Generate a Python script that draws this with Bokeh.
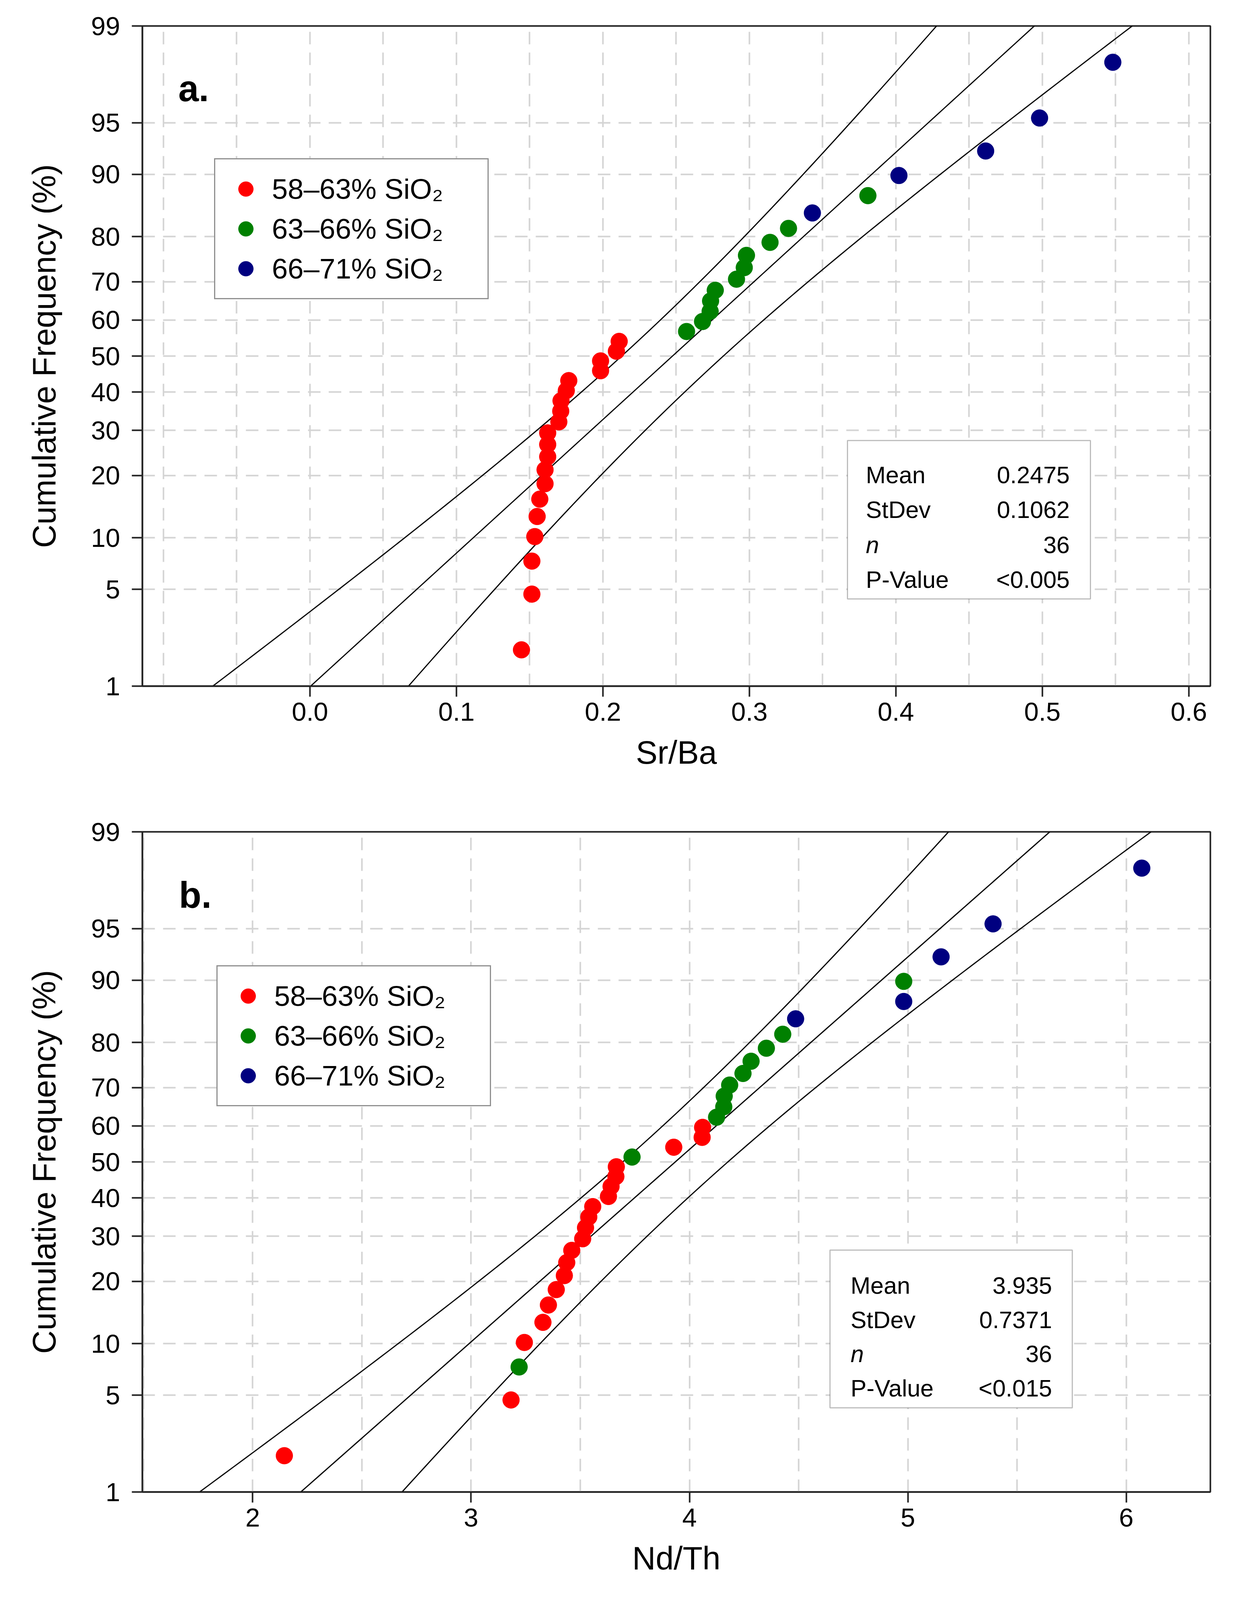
from statistics import NormalDist
import numpy as np
from bokeh.plotting import figure
from bokeh.models import (Range1d, FixedTicker, CustomJSTickFormatter, NumeralTickFormatter,
                          Legend, LegendItem, BoxAnnotation, Label)
from bokeh.layouts import column
from bokeh.embed import file_html
from bokeh.resources import INLINE

FONT = "Liberation Sans"

# ---------------- data ----------------
# plotting positions (cumulative frequency, %) of the 36 ranked samples
cum_freq = [1.92, 4.67, 7.42, 10.16, 12.91, 15.66, 18.41, 21.15, 23.90, 26.65,
            29.40, 32.14, 34.89, 37.64, 40.38, 43.13, 45.88, 48.63, 51.37, 54.12,
            56.87, 59.62, 62.36, 65.11, 67.86, 70.60, 73.35, 76.10, 78.85, 81.59,
            84.34, 87.09, 89.84, 92.58, 95.33, 98.08]

group_names = ["58\u201363% SiO\u2082", "63\u201366% SiO\u2082", "66\u201371% SiO\u2082"]
group_colors = ["#ff0000", "#008000", "#000080"]

# panel a: Sr/Ba (sorted) and SiO2 group of each sample
srba_values = [0.1444, 0.1515, 0.1515, 0.1535, 0.1551, 0.1569, 0.1605, 0.1605, 0.1623, 0.1623,
               0.1623, 0.1699, 0.1712, 0.1714, 0.1750, 0.1767, 0.1984, 0.1984, 0.2092, 0.2111,
               0.2571, 0.2680, 0.2732, 0.2735, 0.2767, 0.2912, 0.2965, 0.2980, 0.3141, 0.3267,
               0.3430, 0.3809, 0.4021, 0.4613, 0.4981, 0.5481]
srba_groups = [0] * 20 + [1] * 10 + [2, 1, 2, 2, 2, 2]

# panel b: Nd/Th (sorted) and SiO2 group of each sample
ndth_values = [2.145, 3.183, 3.220, 3.244, 3.329, 3.354, 3.390, 3.427, 3.438, 3.461,
               3.511, 3.524, 3.539, 3.557, 3.629, 3.641, 3.663, 3.665, 3.737, 3.928,
               4.058, 4.060, 4.124, 4.157, 4.159, 4.184, 4.245, 4.282, 4.352, 4.427,
               4.486, 4.981, 4.981, 5.152, 5.390, 6.071]
ndth_groups = [0, 0, 1] + [0] * 15 + [1] + [0, 0, 0] + [1] * 8 + [2, 2, 1, 2, 2, 2]

stats_labels = ["Mean", "StDev", "n", "P-Value"]
srba_stats = [0.2475, 0.1062, 36, "<0.005"]
ndth_stats = [3.935, 0.7371, 36, "<0.015"]

y_tick_pct = [1, 5, 10, 20, 30, 40, 50, 60, 70, 80, 90, 95, 99]
srba_ticks = [0.0, 0.1, 0.2, 0.3, 0.4, 0.5, 0.6]
srba_grid = [-0.1, -0.05, 0.0, 0.05, 0.1, 0.15, 0.2, 0.25, 0.3, 0.35, 0.4, 0.45, 0.5, 0.55, 0.6]
ndth_ticks = [2, 3, 4, 5, 6]
ndth_grid = [1.5, 2.0, 2.5, 3.0, 3.5, 4.0, 4.5, 5.0, 5.5, 6.0]

# ---------------- helpers ----------------
ND = NormalDist()
ZMAX = ND.inv_cdf(0.99)
VS = 0.95                      # vertical squeeze so the page fits the visible window
FRAME_H = 1690
BORDER_TOP = 66
PAGE_W = 3143


def z_of(pct):
    return ND.inv_cdf(pct / 100.0)


def make_panel(values, groups, stats, x_range, border_left, frame_w, border_bottom,
               xticks, xgrid, xfmt, xlabel, letter, legend_xy, box_px, text_px, row_step):
    fig_h = BORDER_TOP + FRAME_H + border_bottom
    border_right = PAGE_W - border_left - frame_w
    p = figure(width=PAGE_W, height=fig_h, output_backend="svg", toolbar_location=None,
               x_range=Range1d(*x_range), y_range=Range1d(-ZMAX, ZMAX),
               min_border_left=border_left, min_border_right=border_right,
               min_border_top=BORDER_TOP, min_border_bottom=border_bottom)
    p.background_fill_color = "white"
    p.border_fill_color = "white"
    p.outline_line_color = "#222222"
    p.outline_line_width = 4

    def fx(px):
        return x_range[0] + px / frame_w * (x_range[1] - x_range[0])

    def fz(px_from_top):
        return ZMAX - px_from_top * VS / FRAME_H * (2 * ZMAX)

    # axes
    zt = [z_of(v) for v in y_tick_pct]
    p.yaxis.ticker = FixedTicker(ticks=zt)
    p.yaxis.formatter = CustomJSTickFormatter(
        args=dict(zs=zt, labels=[str(v) for v in y_tick_pct]),
        code="const i = zs.findIndex(v => Math.abs(v - tick) < 1e-6); return i >= 0 ? labels[i] : '';")
    p.xaxis.ticker = FixedTicker(ticks=xticks)
    p.xaxis.formatter = NumeralTickFormatter(format=xfmt)
    p.xaxis.axis_label = xlabel
    p.yaxis.axis_label = "Cumulative Frequency (%)"
    for ax in (p.xaxis, p.yaxis):
        ax.axis_line_color = "#222222"
        ax.axis_line_width = 4
        ax.major_tick_line_color = "#222222"
        ax.major_tick_line_width = 4
        ax.major_tick_out = 27
        ax.major_tick_in = 0
        ax.minor_tick_out = 0
        ax.minor_tick_in = 0
        ax.major_label_text_font = FONT
        ax.major_label_text_font_size = "67px"
        ax.major_label_text_color = "black"
        ax.axis_label_text_font = FONT
        ax.axis_label_text_font_size = "83px"
        ax.axis_label_text_font_style = "normal"
        ax.axis_label_text_color = "black"
    p.xaxis.major_label_standoff = 15
    p.xaxis.axis_label_standoff = 32
    p.yaxis.major_label_standoff = 30
    p.yaxis.axis_label_standoff = 70

    # grid
    p.xgrid.ticker = FixedTicker(ticks=xgrid)
    for g in (p.xgrid, p.ygrid):
        g.grid_line_color = "#d4d4d4"
        g.grid_line_width = 4
        g.grid_line_dash = "32 21"

    # fitted line and 95% confidence band
    mean, sd, n = stats[0], stats[1], stats[2]
    zz = np.linspace(-ZMAX, ZMAX, 81)
    mid = mean + zz * sd
    half = 1.96 * sd * np.sqrt((1 + zz ** 2 / 2) / n)
    for xs in (mid - half, mid, mid + half):
        p.line(xs, zz, line_color="black", line_width=3)

    # points
    items = []
    for gi, (name, col) in enumerate(zip(group_names, group_colors)):
        xs = [v for v, g in zip(values, groups) if g == gi]
        ys = [z_of(c) for c, g in zip(cum_freq, groups) if g == gi]
        r = p.scatter(xs, ys, size=43, marker="circle", fill_color=col, line_color=col)
        items.append(LegendItem(label=name, renderers=[r]))

    legend = Legend(items=items, location=legend_xy, orientation="vertical",
                    border_line_color="#222222", border_line_width=3,
                    background_fill_color="white", background_fill_alpha=1.0,
                    label_text_font=FONT, label_text_font_size="73px",
                    label_text_color="black",
                    glyph_width=100, glyph_height=95, label_height=95,
                    label_width=524, label_standoff=17, padding=28, spacing=7, margin=0)
    p.add_layout(legend)

    # statistics box
    bl, br, bt, bb = box_px
    p.add_layout(BoxAnnotation(left=fx(bl), right=fx(br), top=fz(bt), bottom=fz(bb),
                               fill_color="white", fill_alpha=1.0,
                               line_color="#222222", line_width=3))
    tl, tr, tb = text_px
    values_txt = [f"{stats[0]}", f"{stats[1]}", f"{stats[2]}", stats[3]]
    for i, (lab, val) in enumerate(zip(stats_labels, values_txt)):
        yy = fz(tb + i * row_step)
        p.add_layout(Label(x=fx(tl), y=yy, text=lab, text_font=FONT, text_font_size="61px",
                           text_font_style="italic" if lab == "n" else "normal",
                           text_color="black", text_align="left", text_baseline="alphabetic"))
        p.add_layout(Label(x=fx(tr), y=yy, text=val, text_font=FONT, text_font_size="61px",
                           text_color="black", text_align="right", text_baseline="alphabetic"))

    # panel letter
    p.add_layout(Label(x=fx(letter[1]), y=fz(letter[2]), text=letter[0], text_font=FONT,
                       text_font_size="94px", text_font_style="bold", text_color="black",
                       text_align="left", text_baseline="alphabetic"))
    return p


pa = make_panel(srba_values, srba_groups, srba_stats, (-0.1144, 0.6147), 364, 2734, 307,
                srba_ticks, srba_grid, "0.0", "Sr/Ba", ("a.", 92, 168), (184, 990),
                (1805, 2427, 1117, 1544), (1852, 2374, 1210), 94)
pb = make_panel(ndth_values, ndth_groups, ndth_stats, (1.495, 6.385), 358, 2746, 250,
                ndth_ticks, ndth_grid, "0", "Nd/Th", ("b.", 94, 170), (190, 987),
                (1768, 2391, 1127, 1552), (1821, 2339, 1223), 92)

layout = column(pa, pb, spacing=0)
open("out.html", "w").write(file_html(layout, INLINE))
